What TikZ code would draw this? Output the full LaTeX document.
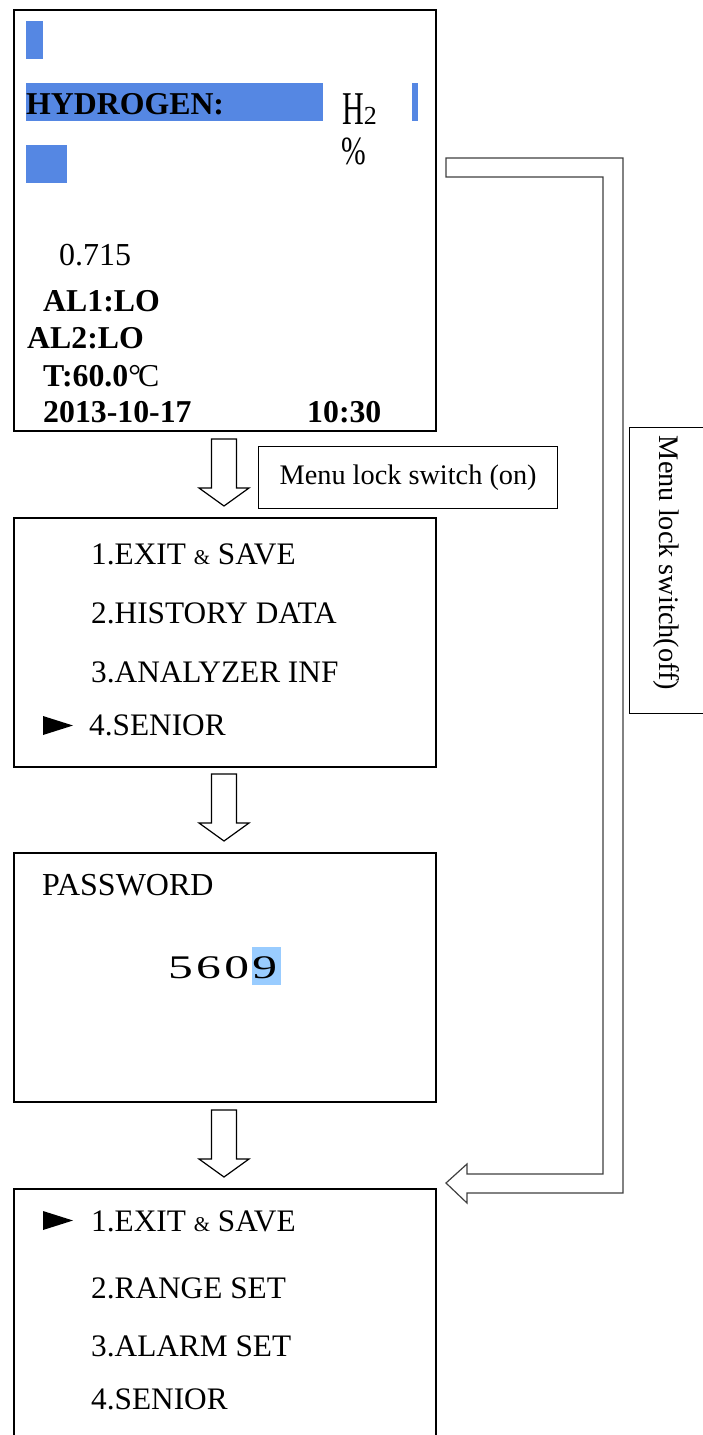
\documentclass[tikz,border=0pt]{standalone}
\usepackage{fontspec}
\setmainfont{Liberation Serif}
\usepackage{graphicx}
\definecolor{lcdblue}{HTML}{5587E3}
\definecolor{selblue}{HTML}{99CCFF}
\definecolor{flowgray}{HTML}{404040}
\newcommand{\amp}{{\fontsize{21}{21}\selectfont\&}}
\begin{document}
\begin{tikzpicture}[x=1pt,y=-1pt,
  screen/.style={draw=black, line width=2.2pt, inner sep=0, anchor=north west},
  tagbox/.style={draw=black, line width=1.3pt, inner sep=0, anchor=north west},
  tagtext/.style={inner sep=0, font=\fontsize{28.3}{29}\selectfont},
  lcd/.style={anchor=base west, inner sep=0, font=\fontsize{32}{32}\selectfont},
  lcdbold/.style={anchor=base west, inner sep=0, font=\fontsize{31.8}{32}\selectfont\bfseries},
  menu/.style={anchor=base west, inner sep=0, font=\fontsize{31.3}{32}\selectfont},
  downarrow/.pic={\draw[black, line width=1.2pt, line join=miter, fill=white]
     (-12.5,0) -- (-12.5,49) -- (-25,49) -- (0,67) -- (25,49) -- (12.5,49) -- (12.5,0) -- cycle;},
]
\useasboundingbox (0,0) rectangle (702,1435);
\fill[white] (0,0) rectangle (702,1435);

% ---- screens
\node[screen, minimum width=422pt, minimum height=421pt] (s1) at (13,9) {};
\node[screen, minimum width=422pt, minimum height=249pt] (s2) at (13,517) {};
\node[screen, minimum width=422pt, minimum height=249pt] (s3) at (13,852) {};
\node[screen, minimum width=422pt, minimum height=270pt] (s4) at (13,1188) {};

% ---- screen 1
\fill[lcdblue] (26,21) rectangle (43,59);
\fill[lcdblue] (26,83) rectangle (323,121);
\fill[lcdblue] (412,83) rectangle (418,121);
\fill[lcdblue] (26,145) rectangle (67,183);
\node[lcdbold] (hyd) at (26,114) {HYDROGEN:};
\node[anchor=base west, inner sep=0] (h2) at (342,124)
  {\fontsize{47}{47}\selectfont\scalebox{0.64}[1]{H}\fontsize{26}{26}\selectfont 2};
\node[anchor=base west, inner sep=0] (pct) at (341,164)
  {\fontsize{40}{40}\selectfont\scalebox{0.74}[1]{\%}};
\node[lcd] (val) at (59,265) {0.715};
\node[lcdbold] (al1) at (43,311) {AL1:LO};
\node[lcdbold] (al2) at (27,348) {AL2:LO};
\node[lcdbold] (temp) at (43,386) {T:60.0{\mdseries\textdegree\kern-3pt C}};
\node[lcdbold] (date) at (43,422) {2013-10-17};
\node[lcdbold] (time) at (307,422) {10:30};

% ---- arrows between screens
\pic at (224,439) {downarrow};
\pic at (224,774) {downarrow};
\pic at (224,1110) {downarrow};

% ---- lock on label
\node[tagbox, minimum width=299pt, minimum height=62pt] (lockonbox) at (258,446) {};
\node[tagtext] (lockon) at (lockonbox.center) {Menu lock switch (on)};

% ---- screen 2
\node[menu] (m1) at (91,564) {1.EXIT \amp{} SAVE};
\node[menu] (m2) at (91,623) {2.HISTORY DATA};
\node[menu] (m3) at (91,682) {3.ANALYZER INF};
\node[menu] (m4) at (89,735) {4.SENIOR};
\fill[black] (43,716) -- (73,725.5) -- (43,735) -- cycle;

% ---- screen 3
\node[lcd] (pw) at (42,895) {PASSWORD};
\fill[selblue] (252,947) rectangle (281,985);
\node[anchor=base west, inner sep=0] (code) at (168,978)
  {\fontsize{33}{33}\selectfont\scalebox{1.5}[1]{5\kern2.2pt 6\kern2.2pt 0\kern2.2pt 9}};

% ---- screen 4
\fill[black] (43,1211) -- (73,1220.5) -- (43,1230) -- cycle;
\node[menu] (n1) at (91,1231) {1.EXIT \amp{} SAVE};
\node[menu] (n2) at (91,1298) {2.RANGE SET};
\node[menu] (n3) at (91,1356) {3.ALARM SET};
\node[menu] (n4) at (91,1409) {4.SENIOR};

% ---- return arrow (menu lock off)
\draw[flowgray, line width=1.2pt, line join=miter]
  (446,158) -- (623,158) -- (623,1193) -- (467,1193) -- (467,1203) -- (446,1183)
  -- (467,1164) -- (467,1174) -- (603,1174) -- (603,177) -- (446,177) -- cycle;

\node[tagbox, minimum width=80pt, minimum height=286pt] (lockoffbox) at (629,427) {};
\node[tagtext, rotate=-90] (lockoff) at (666,563) {Menu lock switch(off)};
\end{tikzpicture}
\end{document}
